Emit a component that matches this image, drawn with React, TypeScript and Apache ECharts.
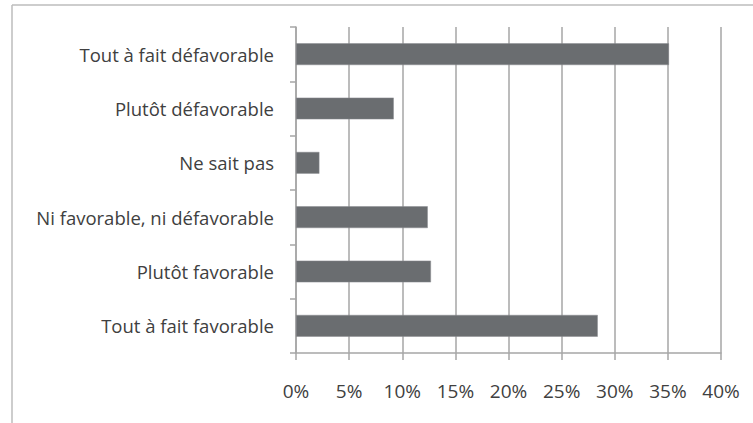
import React, { useEffect, useRef } from "react";
import * as echarts from "echarts";

const categories = [
  "Tout à fait défavorable",
  "Plutôt défavorable",
  "Ne sait pas",
  "Ni favorable, ni défavorable",
  "Plutôt favorable",
  "Tout à fait favorable",
];
const values = [35.1, 9.2, 2.2, 12.4, 12.7, 28.4];
const xMin = 0;
const xMax = 40;
const xStep = 5;

export default function App() {
  const ref = useRef<HTMLDivElement>(null);
  useEffect(() => {
    if (!ref.current) return;
    const chart = echarts.init(ref.current, undefined, { renderer: "svg" });
    const gridColor = "#a6a6a6";
    const textColor = "#404040";
    chart.setOption({
      animation: false,
      backgroundColor: "#ffffff",
      textStyle: { fontFamily: "Open Sans" },
      grid: { left: 296, right: 32, top: 27, bottom: 70, containLabel: false },
      xAxis: {
        type: "value",
        min: xMin,
        max: xMax,
        interval: xStep,
        axisLine: { show: true, lineStyle: { color: gridColor, width: 1.5 } },
        axisTick: { show: true, inside: false, length: 7, lineStyle: { color: gridColor, width: 1.5 } },
        splitLine: { show: true, lineStyle: { color: gridColor, width: 1.5 } },
        axisLabel: {
          formatter: "{value}%",
          color: textColor,
          fontSize: 19,
          margin: 28,
          fontFamily: "Open Sans",
        },
      },
      yAxis: {
        type: "category",
        data: categories,
        inverse: true,
        axisLine: { show: true, lineStyle: { color: gridColor, width: 1.5 } },
        axisTick: { show: true, length: 6, lineStyle: { color: gridColor, width: 1.5 } },
        axisLabel: {
          color: textColor,
          fontSize: 18.5,
          margin: 22,
          fontFamily: "Open Sans",
        },
      },
      series: [
        {
          type: "bar",
          data: values,
          barWidth: "40%",
          itemStyle: { color: "#6a6d70", borderColor: "#8a8d90", borderWidth: 0.5 },
        },
      ],
      graphic: [
        {
          type: "line",
          shape: { x1: 12, y1: 5, x2: 753, y2: 5 },
          style: { stroke: "#bdbdbd", lineWidth: 1.5 },
        },
        {
          type: "line",
          shape: { x1: 12, y1: 5, x2: 12, y2: 423 },
          style: { stroke: "#bdbdbd", lineWidth: 1.5 },
        },
      ],
    });
    return () => chart.dispose();
  }, []);
  return (
    <div
      ref={ref}
      style={{ position: "fixed", left: 0, top: 0, width: 753, height: 423 }}
    />
  );
}
